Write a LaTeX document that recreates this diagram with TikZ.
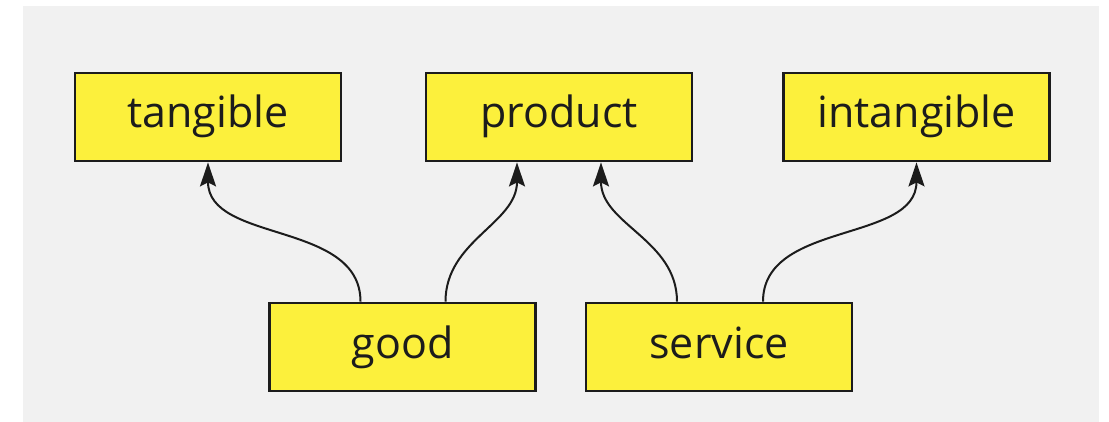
\documentclass[tikz,border=0pt]{standalone}
\usepackage{fontspec}
\setmainfont{Open Sans}
\usepackage{tikz}
\usetikzlibrary{arrows.meta}

\definecolor{paper}{HTML}{F1F1F1}
\definecolor{boxfill}{HTML}{FCF03C}
\definecolor{ink}{HTML}{1C1C1C}

\begin{document}
\begin{tikzpicture}[x=0.5pt, y=-0.5pt,
        term/.style = {rectangle, draw=ink, fill=boxfill, line width=1.4pt,
                       minimum width=133pt, minimum height=44pt, inner sep=0pt,
                       text height=16pt, text depth=5pt,
                       text=ink, font=\fontsize{21.5}{25}\selectfont},
        link/.style = {-{Stealth[length=12pt, width=8pt, inset=2pt]}, line width=1pt, draw=ink,
                       out=90, in=-90}]
    \useasboundingbox (0,0) rectangle (1109,422);
    \fill [paper] (23,6) rectangle (1099,422);

    % top row
    \node [term] (tangible)   at (208,117)   {tangible};
    \node [term] (product)    at (559,117)   {product};
    \node [term] (intangible) at (916.5,117) {intangible};

    % bottom row
    \node [term] (good)    at (402.5,347) {good};
    \node [term] (service) at (719,347)   {service};

    \draw [link] ([xshift=-21pt]good.north)    to (tangible.south);
    \draw [link] ([xshift=21.5pt]good.north)   to ([xshift=-21pt]product.south);
    \draw [link] ([xshift=-21pt]service.north) to ([xshift=21pt]product.south);
    \draw [link] ([xshift=22pt]service.north)  to (intangible.south);
\end{tikzpicture}
\end{document}
